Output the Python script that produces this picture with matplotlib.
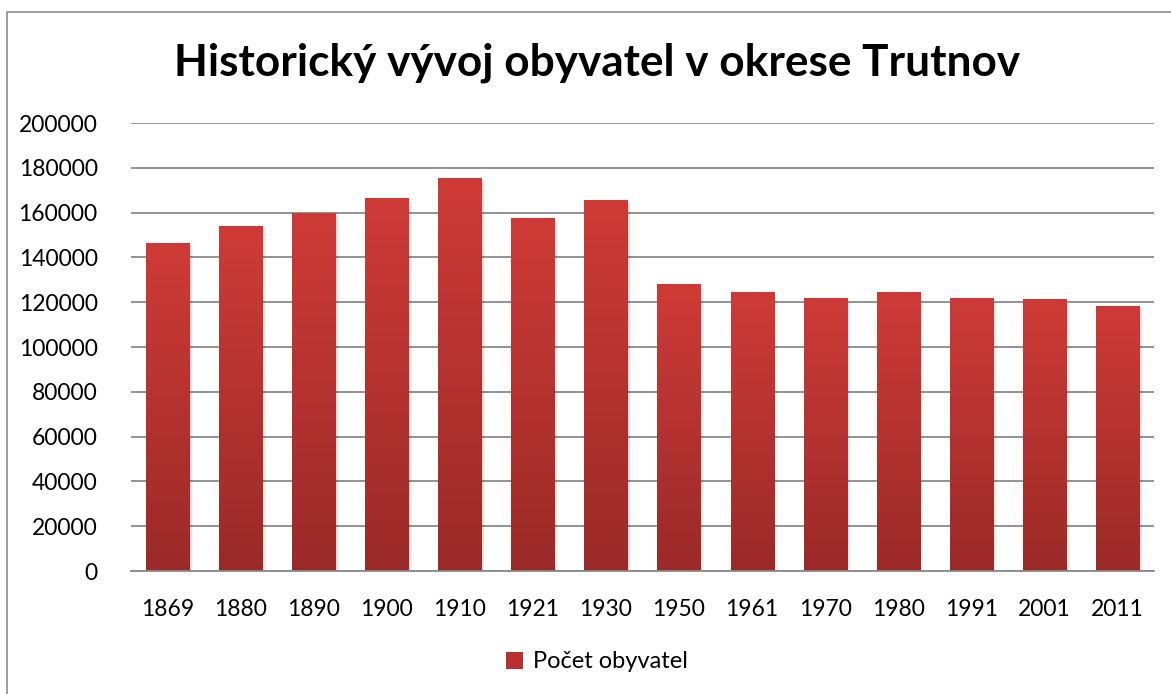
import matplotlib
matplotlib.use("Agg")
import matplotlib.pyplot as plt
import numpy as np
from matplotlib.patches import Rectangle, Patch
from matplotlib.colors import LinearSegmentedColormap

years = ["1869", "1880", "1890", "1900", "1910", "1921", "1930",
         "1950", "1961", "1970", "1980", "1991", "2001", "2011"]
population = [146400, 154000, 159500, 166100, 175100, 157200, 165200,
              127800, 124200, 121500, 124200, 121500, 121000, 118300]
yticks = [0, 20000, 40000, 60000, 80000, 100000, 120000, 140000,
          160000, 180000, 200000]
title = "Historický vývoj obyvatel v okrese Trutnov"
series_name = "Počet obyvatel"

plt.rcParams['font.family'] = ['Lato', 'DejaVu Sans']

W, H = 1171, 694
fig = plt.figure(figsize=(W / 100, H / 100), dpi=100)
ax = fig.add_axes([131 / W, (H - 571) / H, (1154 - 131) / W, (571 - 123) / H])

# outer chart border (left and top visible)
fig.add_artist(Rectangle((7 / W, -0.1), 1.2, (H - 12) / H + 0.1,
                         transform=fig.transFigure, fill=False,
                         edgecolor="#8c8c8c", linewidth=1.2))

cmap = LinearSegmentedColormap.from_list("redgrad", ["#9a2a28", "#ce3b37"])
grad = np.linspace(0, 1, 256).reshape(-1, 1)

x = np.arange(len(years))
width = 0.59
for xi, v in zip(x, population):
    # soft shadow
    for k, a in enumerate([0.06, 0.05, 0.04]):
        off = 0.02 + 0.015 * k
        ax.add_patch(Rectangle((xi - width / 2 + off, -600 * (k + 1)), width, v,
                               facecolor="black", alpha=a, edgecolor="none",
                               zorder=2))
    ax.imshow(grad, extent=[xi - width / 2, xi + width / 2, 0, v],
              aspect="auto", cmap=cmap, origin="lower", zorder=3,
              interpolation="bilinear")

ax.set_xlim(-0.5, len(years) - 0.5)
ax.set_ylim(0, 200000)
ax.set_xticks(x)
ax.set_xticklabels(years)
ax.set_yticks(yticks)
ax.set_yticklabels([str(t) for t in yticks])
ax.tick_params(axis="both", length=0, labelsize=16.5, colors="black")
ax.tick_params(axis="y", pad=24)
ax.tick_params(axis="x", pad=20)
ax.grid(axis="y", color="#8a8a8a", linewidth=1.3, zorder=1)
ax.set_axisbelow(True)
for s in ["top", "right", "left"]:
    ax.spines[s].set_visible(False)
ax.spines["bottom"].set_color("#8a8a8a")
ax.spines["bottom"].set_linewidth(1.3)
ax.spines["bottom"].set_zorder(4)

fig.text(597 / W, 1 - 63 / H, title, ha="center", va="center",
         fontsize=31.8, fontweight="bold")

handle = Patch(facecolor="#b8312f", edgecolor="none")
fig.legend([handle], [series_name], loc="center",
           bbox_to_anchor=(597 / W, 1 - 662 / H), frameon=False,
           fontsize=17, handlelength=0.7, handleheight=0.7, handletextpad=0.45)

fig.savefig("out.png", dpi=100)
